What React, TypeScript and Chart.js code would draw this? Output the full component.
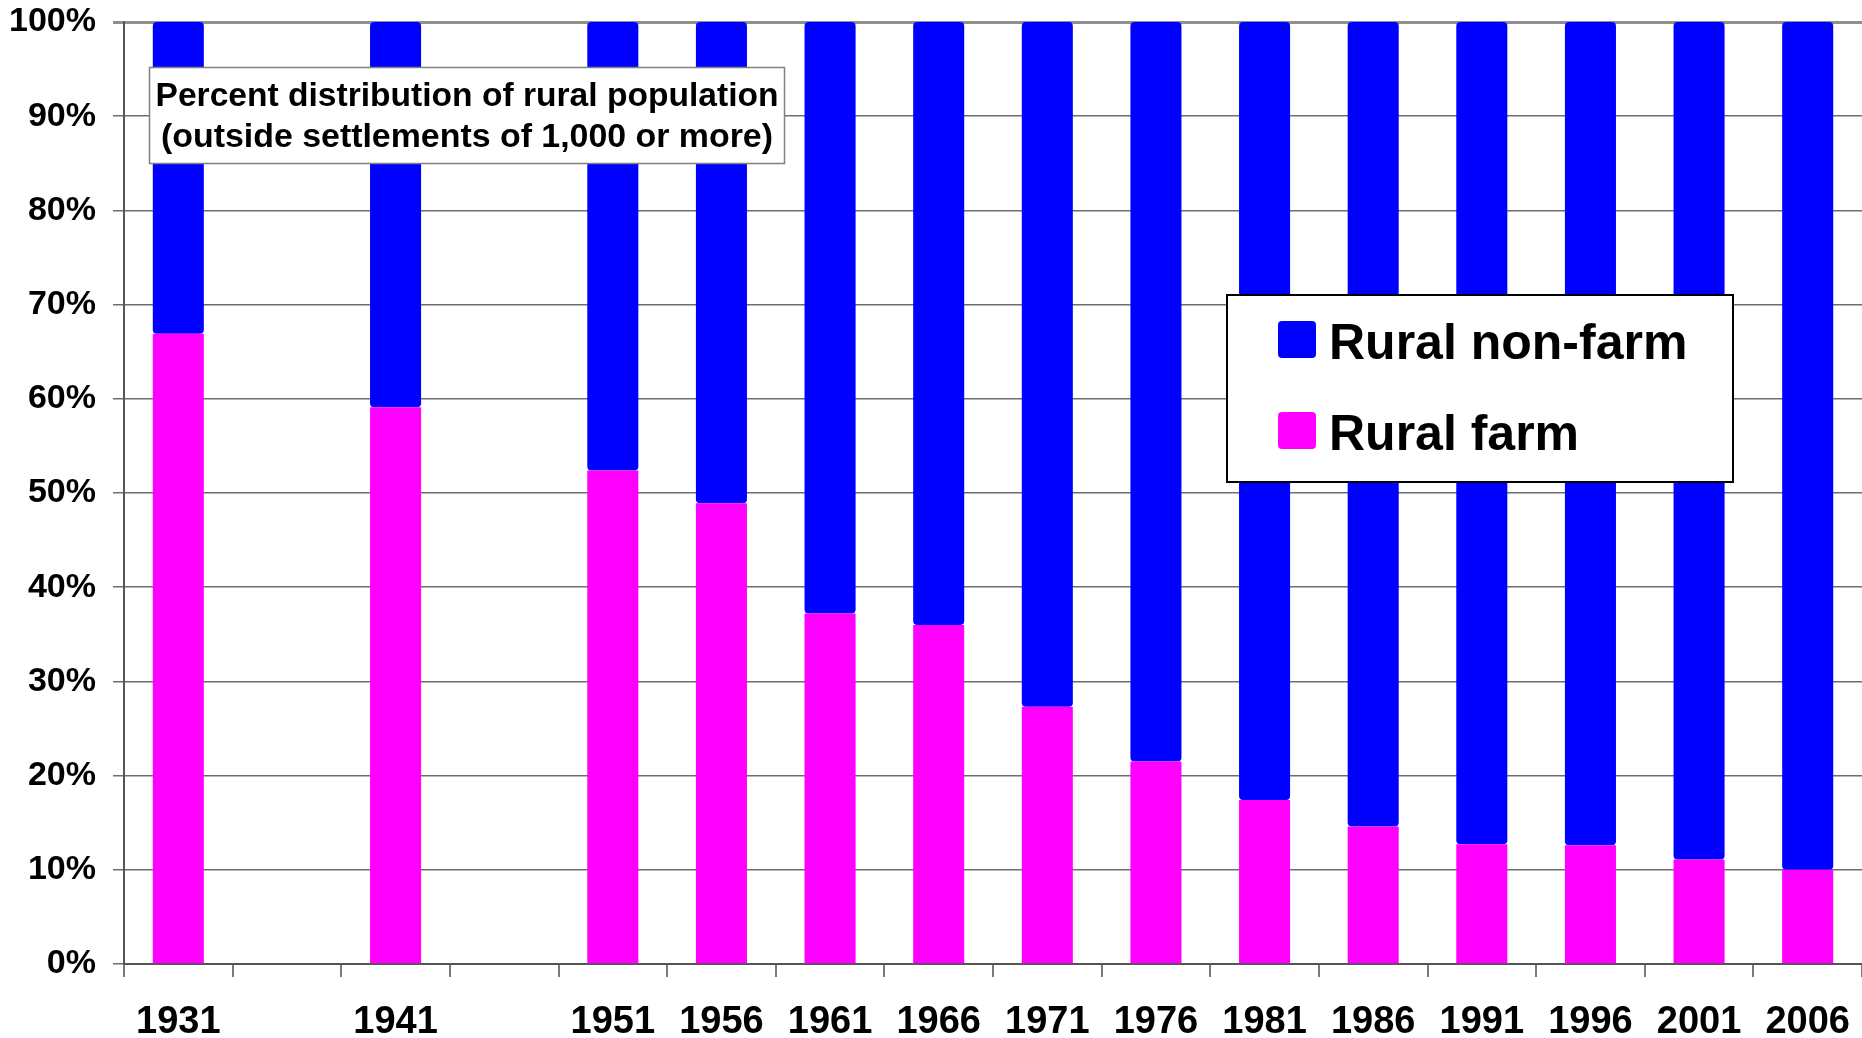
import { useEffect, useRef } from 'react';
import { Chart, registerables } from 'chart.js';

Chart.register(...registerables);

const categories = ['1931', '1936', '1941', '1946', '1951', '1956', '1961', '1966', '1971', '1976', '1981', '1986', '1991', '1996', '2001', '2006'];
const tickLabels = ['1931', '', '1941', '', '1951', '1956', '1961', '1966', '1971', '1976', '1981', '1986', '1991', '1996', '2001', '2006'];
const ruralFarm = [66.9, null, 59.1, null, 52.4, 48.9, 37.2, 36.0, 27.3, 21.5, 17.4, 14.6, 12.7, 12.6, 11.1, 10.0];
const ruralNonFarm = [33.1, null, 40.9, null, 47.6, 51.1, 62.8, 64.0, 72.7, 78.5, 82.6, 85.4, 87.3, 87.4, 88.9, 90.0];
const seriesNames = ['Rural farm', 'Rural non-farm'];
const seriesColors = ['#FF00FF', '#0000FF'];
const titleLines = ['Percent distribution of rural population', '(outside settlements of 1,000 or more)'];

const FONT = '"Liberation Sans", Arial, Helvetica, sans-serif';

const overlayPlugin = {
  id: 'overlay',
  afterDraw(chart: any) {
    const ctx = chart.ctx as CanvasRenderingContext2D;
    ctx.save();
    // Title box
    ctx.fillStyle = '#ffffff';
    ctx.fillRect(149, 67, 635, 96);
    ctx.strokeStyle = '#808080';
    ctx.lineWidth = 1.5;
    ctx.strokeRect(149.5, 67.5, 635, 96);
    ctx.fillStyle = '#000000';
    ctx.font = `bold 34px ${FONT}`;
    ctx.textAlign = 'center';
    ctx.textBaseline = 'alphabetic';
    ctx.fillText(titleLines[0], 467, 106, 623);
    ctx.fillText(titleLines[1], 467, 147, 612);

    // Legend box
    ctx.fillStyle = '#ffffff';
    ctx.fillRect(1227, 295, 506, 187);
    ctx.strokeStyle = '#000000';
    ctx.lineWidth = 2;
    ctx.strokeRect(1227, 295, 506, 187);
    const items = [1, 0];
    const rowsY = [340, 431];
    items.forEach((di, k) => {
      const ds = chart.data.datasets[di];
      const cy = rowsY[k];
      ctx.fillStyle = ds.backgroundColor;
      ctx.beginPath();
      (ctx as any).roundRect(1278, cy - 19, 38, 37, 4);
      ctx.fill();
      ctx.fillStyle = '#000000';
      ctx.font = `bold 50px ${FONT}`;
      ctx.textAlign = 'left';
      ctx.textBaseline = 'alphabetic';
      ctx.fillText(ds.label, 1329, cy + 19);
    });
    ctx.restore();
  },
};

export default function App() {
  const ref = useRef<HTMLCanvasElement>(null);
  useEffect(() => {
    if (!ref.current) return;
    const chart = new Chart(ref.current, {
      type: 'bar',
      data: {
        labels: categories,
        datasets: [
          {
            label: seriesNames[0],
            data: ruralFarm,
            backgroundColor: seriesColors[0],
            borderWidth: 0,
            borderSkipped: 'start',
          },
          {
            label: seriesNames[1],
            data: ruralNonFarm,
            backgroundColor: seriesColors[1],
            borderWidth: 0,
            borderRadius: 4,
            borderSkipped: false,
          },
        ],
      },
      options: {
        responsive: false,
        animation: false,
        layout: { padding: { top: 22, right: 0, left: 0, bottom: 0 } },
        datasets: { bar: { categoryPercentage: 1, barPercentage: 0.47 } },
        plugins: {
          legend: { display: false },
          tooltip: { enabled: false },
          title: { display: false },
        },
        scales: {
          x: {
            stacked: true,
            offset: true,
            grid: {
              offset: true,
              drawOnChartArea: false,
              drawTicks: true,
              tickLength: 13,
              color: '#7a7a7a',
              lineWidth: 2,
            },
            border: { display: true, color: '#555555', width: 2 },
            ticks: {
              color: '#000000',
              font: { family: FONT, size: 38, weight: 'bold' },
              padding: 23,
              maxRotation: 0,
              autoSkip: false,
              callback: (_v: any, i: number) => tickLabels[i],
            },
            afterFit: (scale: any) => {
              scale.height = 74;
              scale.paddingLeft = 0;
              scale.paddingRight = 0;
            },
          },
          y: {
            stacked: true,
            min: 0,
            max: 100,
            grid: {
              drawTicks: true,
              tickLength: 11,
              color: (c: any) => (c.tick && c.tick.value === 100 ? '#909090' : '#6e6e6e'),
              lineWidth: (c: any) => (c.tick && c.tick.value === 100 ? 3 : 1.5),
            },
            border: { display: true, color: '#555555', width: 2 },
            ticks: {
              stepSize: 10,
              color: '#000000',
              font: { family: FONT, size: 34, weight: 'bold' },
              padding: 17,
              callback: (v: any) => `${v}%`,
            },
            afterFit: (scale: any) => {
              scale.width = 124;
              scale.paddingTop = 0;
              scale.paddingBottom = 0;
            },
          },
        },
      },
      plugins: [overlayPlugin],
    });
    return () => chart.destroy();
  }, []);
  return (
    <canvas
      ref={ref}
      width={1862}
      height={1038}
      style={{ position: 'absolute', left: 0, top: 0, display: 'block', background: '#ffffff' }}
    />
  );
}
